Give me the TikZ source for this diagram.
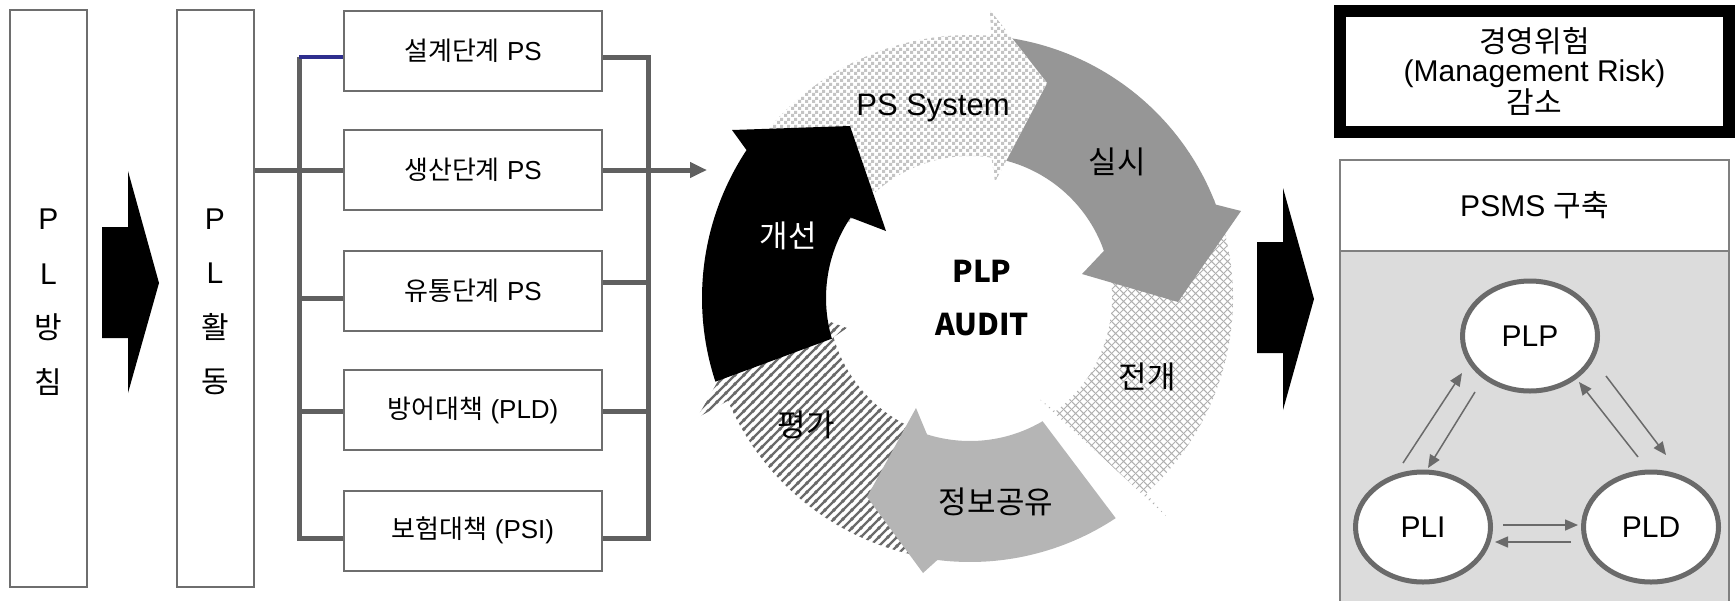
\documentclass[tikz,border=0pt]{standalone}
\usepackage{fontspec}
\setmainfont{Liberation Sans}
\newfontfamily\kr{Noto Sans CJK KR}
\usetikzlibrary{calc,patterns,arrows.meta,shapes.geometric}

\definecolor{boxgray}{HTML}{6E6E6E}
\definecolor{treegray}{HTML}{606060}
\definecolor{treeblue}{HTML}{2E2E8E}
\definecolor{silsi}{HTML}{969696}
\definecolor{jeongbo}{HTML}{B5B5B5}
\definecolor{checkgray}{HTML}{C4C4C4}
\definecolor{hatchgray}{HTML}{B0B0B0}
\definecolor{stripegray}{HTML}{6A6A6A}
\definecolor{panelgray}{HTML}{DCDCDC}
\definecolor{panelline}{HTML}{808080}
\definecolor{ellgray}{HTML}{6A6A6A}

\pgfdeclarepatternformonly{checker}{\pgfpointorigin}{\pgfpoint{7pt}{7pt}}{\pgfpoint{7pt}{7pt}}{%
  \pgfpathrectangle{\pgfpointorigin}{\pgfpoint{3.5pt}{3.5pt}}%
  \pgfpathrectangle{\pgfpoint{3.5pt}{3.5pt}}{\pgfpoint{3.5pt}{3.5pt}}%
  \pgfusepath{fill}}

\pgfdeclarepatternformonly{slantstripes}{\pgfpointorigin}{\pgfpoint{9.2pt}{9.2pt}}{\pgfpoint{9.2pt}{9.2pt}}{%
  \pgfsetlinewidth{2.5pt}%
  \pgfpathmoveto{\pgfpoint{-2pt}{-2pt}}\pgfpathlineto{\pgfpoint{11.2pt}{11.2pt}}%
  \pgfpathmoveto{\pgfpoint{-3pt}{6.2pt}}\pgfpathlineto{\pgfpoint{3pt}{12.2pt}}%
  \pgfpathmoveto{\pgfpoint{6.2pt}{-3pt}}\pgfpathlineto{\pgfpoint{12.2pt}{3pt}}%
  \pgfusepath{stroke}}

\pgfdeclarepatternformonly{diamondhatch}{\pgfpointorigin}{\pgfpoint{8pt}{8pt}}{\pgfpoint{8pt}{8pt}}{%
  \pgfsetlinewidth{1.1pt}%
  \pgfpathmoveto{\pgfpoint{-1pt}{-1pt}}\pgfpathlineto{\pgfpoint{9pt}{9pt}}%
  \pgfpathmoveto{\pgfpoint{-1pt}{9pt}}\pgfpathlineto{\pgfpoint{9pt}{-1pt}}%
  \pgfusepath{stroke}}

\tikzset{
  tallbox/.style={draw=boxgray, line width=2pt, fill=white, minimum width=77pt, minimum height=577pt,
    inner sep=0pt, align=center, font=\fontsize{30}{54.5}\selectfont},
  stagebox/.style={draw=boxgray, line width=2pt, fill=white, minimum width=258pt, minimum height=80pt,
    inner sep=0pt, font=\fontsize{26}{30}\selectfont},
  treeline/.style={draw=treegray, line width=5pt, line join=miter},
  blueline/.style={draw=treeblue, line width=3.5pt},
  lbl/.style={font=\fontsize{31}{36}\selectfont, inner sep=0pt},
  ellnode/.style={ellipse, draw=ellgray, line width=5pt, fill=white, minimum width=135pt,
    minimum height=110pt, inner sep=0pt, font=\fontsize{30}{34}\selectfont},
  earrow/.style={draw=ellgray, line width=1.5pt, -{Triangle[length=13pt,width=11pt]}},
}

\begin{document}
\begin{tikzpicture}[x=1pt,y=1pt,yscale=-1]
\useasboundingbox (0,0) rectangle (1736,600);

% ---------- left columns ----------
\node[tallbox] (plbang) at (48.5,298.5) {};
\node[tallbox] (plact) at (215,298.5) {};
\node[align=center, inner sep=0pt, font=\fontsize{30}{54.5}\selectfont] (plbangtxt) at (plbang.center |- 0,302) {P\\L\\{\kr 방}\\{\kr 침}};
\node[align=center, inner sep=0pt, font=\fontsize{30}{54.5}\selectfont] (placttxt) at (plact.center |- 0,302) {P\\L\\{\kr 활}\\{\kr 동}};
\fill (102,227) -- (128,227) -- (128,171) -- (159,283) -- (128,393) -- (128,338) -- (102,338) -- cycle;

% ---------- stage boxes ----------
\node[stagebox] (s1) at (473,50.5) {{\kr 설계단계} PS};
\node[stagebox] (s2) at (473,170) {{\kr 생산단계} PS};
\node[stagebox] (s3) at (473,290.5) {{\kr 유통단계} PS};
\node[stagebox] (s4) at (473,410) {{\kr 방어대책} (PLD)};
\node[stagebox] (s5) at (473,530.5) {{\kr 보험대책} (PSI)};

\coordinate (jl1) at (299,57);
\coordinate (jl2) at (299,170);
\coordinate (jl3) at (299,298);
\coordinate (jl4) at (299,411);
\coordinate (jl5) at (299,538);
\coordinate (jr1) at (648,57);
\coordinate (jr2) at (648,170);
\coordinate (jr3) at (648,282);
\coordinate (jr4) at (648,411);
\coordinate (jr5) at (648,538);
\coordinate (cyclein) at (707,170);

\draw[treeline] (s5.west |- jl5) -- (jl5) -- (jl1);
\draw[blueline] (jl1) -- (s1.west |- jl1);
\draw[treeline] (plact.east |- jl2) -- (s2.west |- jl2);
\draw[treeline] (jl3) -- (s3.west |- jl3);
\draw[treeline] (jl4) -- (s4.west |- jl4);
\draw[treeline] (s1.east |- jr1) -- (jr1) -- (jr5) -- (s5.east |- jr5);
\draw[treeline] (s3.east |- jr3) -- (jr3);
\draw[treeline] (s4.east |- jr4) -- (jr4);
\draw[treeline, -{Triangle[length=17pt,width=15pt]}] (s2.east |- jr2) -- (cyclein);

% ---------- cycle ----------
\coordinate (C) at (970,298);
% 전개
\path[preaction={fill=white}, pattern=diamondhatch, pattern color=hatchgray]
  ($(C)+(-22:263)$) arc[start angle=-22, end angle=48, radius=263] -- (1167,517) -- (1037,397)
  -- ($(C)+(53:142)$) arc[start angle=53, end angle=-22, radius=142] -- cycle;
% 실시
\fill[silsi] ($(C)+(-82:142)$) -- ($(C)+(-82:263)$) arc[start angle=-82, end angle=-20.8, radius=263]
  -- (1241,211) -- (1178,302) -- (1082,274)
  -- ($(C)+(-19.4:142)$) arc[start angle=-19.4, end angle=-82, radius=142] -- cycle;
% PS System
\path[preaction={fill=white}, pattern=checker, pattern color=checkgray]
  ($(C)+(-148:263)$) arc[start angle=-148, end angle=-85.4, radius=263] -- (990,10) -- (1047,83) -- (995,182)
  -- ($(C)+(-81.3:142)$) arc[start angle=-81.3, end angle=-148, radius=142] -- cycle;
% 평가
\path[preaction={fill=white}, pattern=slantstripes, pattern color=stripegray]
  ($(C)+(102.5:263)$) arc[start angle=102.5, end angle=157, radius=263] -- (697,418) -- (765,298) -- (847,328)
  -- ($(C)+(164:142)$) arc[start angle=164, end angle=114, radius=142] -- cycle;
% 정보공유
\fill[jeongbo] ($(C)+(59.5:143)$) -- ($(C)+(56.5:264)$) arc[start angle=56.5, end angle=97.1, radius=264]
  -- (923,573) -- (867,497) -- (916,408)
  -- ($(C)+(107.5:143)$) arc[start angle=107.5, end angle=59.5, radius=143] -- cycle;
% 개선
\fill[black] ($(C)+(163.6:144)$) -- ($(C)+(161.8:268)$) arc[start angle=161.8, end angle=213.5, radius=268]
  -- (732,130) -- (850,126) -- (886,231)
  -- ($(C)+(214:144)$) arc[start angle=214, end angle=163.6, radius=144] -- cycle;

\node[lbl] (lps) at (933,108) {PS System};
\node[lbl] (lsilsi) at (1117,162) {\kr 실시};
\node[lbl, text=white] (lgaeseon) at (788,236) {\kr 개선};
\node[lbl] (ljeongae) at (1147,377) {\kr 전개};
\node[lbl] (ljeongbo) at (996,502) {\kr 정보공유};
\node[lbl] (lpyeongga) at (806,425) {\kr 평가};
\node[align=center, inner sep=0pt, font=\kr\bfseries\fontsize{30}{53}\selectfont] (plpaudit) at (982,298) {PLP\\AUDIT};

% ---------- right side ----------
\fill (1257,242) -- (1283,242) -- (1283,188) -- (1314,299) -- (1283,410) -- (1283,353) -- (1257,353) -- cycle;

\node[draw=black, line width=12pt, minimum width=389pt, minimum height=121pt, inner sep=0pt, align=center,
  font=\fontsize{30}{29}\selectfont] (risk) at (1534.5,71) {{\kr 경영위험}\\(Management Risk)\\{\kr 감소}};

\node[draw=panelline, line width=2pt, fill=panelgray, minimum width=389pt, minimum height=360pt, inner sep=0pt]
  (body) at (1534.5,431) {};
\node[draw=panelline, line width=2pt, fill=white, minimum width=389pt, minimum height=91pt, inner sep=0pt,
  font=\fontsize{30}{34}\selectfont] (psms) at (1534.5,205.5) {PSMS {\kr 구축}};

\node[ellnode] (PLP) at (1530,336) {PLP};
\node[ellnode] (PLI) at (1423,527) {PLI};
\node[ellnode] (PLD) at (1651,527) {PLD};

\draw[earrow] ($(PLI.center)+(-20,-64)$) -- ($(PLP.center)+(-68,37)$);
\draw[earrow] ($(PLP.center)+(-55,56)$) -- ($(PLI.center)+(5,-59)$);
\draw[earrow] ($(PLP.center)+(76,40)$) -- ($(PLD.center)+(15,-72)$);
\draw[earrow] ($(PLD.center)+(-13,-70)$) -- ($(PLP.center)+(49,46)$);
\draw[earrow] ($(PLI.center)+(80,-2)$) -- ($(PLD.center)+(-73,-2)$);
\draw[earrow] ($(PLD.center)+(-80,15)$) -- ($(PLI.center)+(72,15)$);
\end{tikzpicture}
\end{document}
